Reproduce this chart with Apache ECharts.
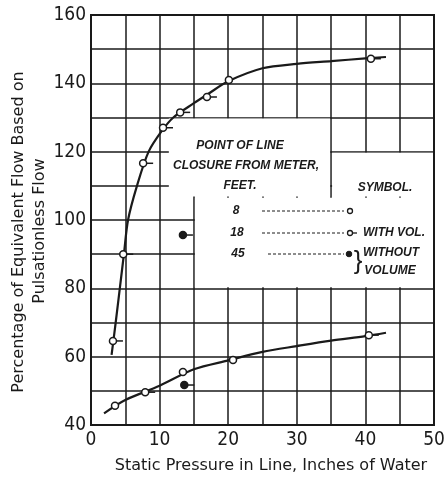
<!DOCTYPE html>
<html>
<head>
<meta charset="utf-8">
<script src="https://cdn.jsdelivr.net/npm/echarts@6/dist/echarts.min.js"></script>
<style>
  html, body { margin: 0; padding: 0; background: #fff; }
  #chart { width: 448px; height: 477px; }
</style>
</head>
<body>
<div id="chart"></div>
<script>
// traced curves (static pressure, % flow)
const upperCurve = [[3, 60.5], [3.6, 70], [4.2, 80], [4.8, 90], [5.4, 100], [6.7, 110], [8.4, 120],
  [10.3, 126], [12, 130], [15, 134.2], [17, 136.8], [20, 140.6], [25, 144.4], [30, 145.7],
  [35, 146.5], [40, 147.3], [43, 147.7]]
const lowerCurve = [[1.9, 43.4], [5, 47.3], [10, 51.5], [15, 56.3], [20, 58.9], [25, 61.4],
  [30, 63.1], [35, 64.7], [40, 66], [43, 67]]
// observed points by line-closure distance
const pts8ft = [[3.5, 45.6], [13.4, 55.5], [20.7, 59], [20.1, 141]]
const pts18ft = [[3.2, 64.6], [4.7, 90], [7.6, 116.6], [10.5, 127], [13, 131.5], [16.9, 136],
  [40.8, 147.2], [7.9, 49.6], [40.5, 66.3]]
const pts45ft = [[13.4, 95.6], [13.6, 51.7]]
const xTicks = [0, 10, 20, 30, 40, 50]
const yTicks = [40, 60, 80, 100, 120, 140, 160]

const ink = '#1a1a1a'
const tickFont = "'Liberation Sans Narrow', 'DejaVu Sans Condensed', sans-serif"
const noteFont = "'Liberation Sans', sans-serif"

let myChart = echarts.init(document.getElementById('chart'))

function marker(filled, tail) {
  return function (params, api) {
    let p = api.coord([api.value(0), api.value(1)])
    let kids = []
    if (tail) {
      kids.push({ type: 'line', shape: { x1: p[0] + 3, y1: p[1], x2: p[0] + 10, y2: p[1] },
        style: { stroke: ink, lineWidth: 1.5 } })
    }
    kids.push({ type: 'circle', shape: { cx: p[0], cy: p[1], r: 3.5 },
      style: { fill: filled ? ink : '#fff', stroke: ink, lineWidth: 1.5 } })
    return { type: 'group', children: kids }
  }
}

myChart.setOption({
  backgroundColor: '#fff',
  animation: false,
  grid: { left: 91, top: 15, right: 14, bottom: 52, show: true, borderColor: ink, borderWidth: 2, backgroundColor: 'transparent' },
  xAxis: {
    type: 'value', min: 0, max: 50, interval: 5,
    axisLine: { show: false }, axisTick: { show: false },
    splitLine: { show: true, lineStyle: { color: ink, width: 1.5 } },
    axisLabel: {
      color: ink, fontFamily: tickFont, fontSize: 19, margin: 6,
      formatter: v => xTicks.includes(v) ? String(v) : ''
    }
  },
  yAxis: {
    type: 'value', min: 40, max: 160, interval: 10,
    axisLine: { show: false }, axisTick: { show: false },
    splitLine: { show: true, lineStyle: { color: ink, width: 1.5 } },
    axisLabel: {
      color: ink, fontFamily: tickFont, fontSize: 19, margin: 5,
      formatter: v => yTicks.includes(v) ? String(v) : ''
    }
  },
  series: [
    { type: 'line', data: upperCurve, smooth: 0.3, showSymbol: false, z: 3,
      lineStyle: { color: ink, width: 2.2 } },
    { type: 'line', data: lowerCurve, smooth: 0.3, showSymbol: false, z: 3,
      lineStyle: { color: ink, width: 2.2 } },
    { type: 'custom', data: pts8ft, renderItem: marker(false, false), z: 4 },
    { type: 'custom', data: pts18ft, renderItem: marker(false, true), z: 4 },
    { type: 'custom', data: pts45ft, renderItem: marker(true, true), z: 4 }
  ]
})

// white legend box cut out of the grid
function px(x, y) { return myChart.convertToPixel({ gridIndex: 0 }, [x, y]) }
function box(x0, y0, x1, y1) {
  let a = px(x0, y1), b = px(x1, y0)
  return { type: 'rect', z: 1, shape: { x: a[0] + 1, y: a[1] + 1, width: b[0] - a[0] - 2, height: b[1] - a[1] - 2 },
    style: { fill: '#fff' }, silent: true }
}
function note(text, x, y, opt) {
  return Object.assign({ type: 'text', z: 5, x: x, y: y,
    style: { text: text, fill: ink, font: 'italic bold 12px ' + noteFont, align: 'center', verticalAlign: 'middle' } }, opt || {})
}
function dash(x1, x2, y) {
  return { type: 'line', z: 5, shape: { x1: x1, y1: y, x2: x2, y2: y },
    style: { stroke: ink, lineWidth: 1, lineDash: [3, 2] } }
}

myChart.setOption({
  graphic: [
    box(11.2, 106.6, 35, 130),
    box(35, 106.6, 50, 120),
    box(15, 80, 50, 106.8),
    note('POINT OF LINE', 240, 146),
    note('CLOSURE FROM METER,', 246, 166),
    note('FEET.', 240, 186),
    note('SYMBOL.', 385, 188),
    note('8', 236, 211),
    note('18', 237, 233),
    note('45', 238, 254),
    dash(262, 344, 211),
    dash(262, 344, 233),
    dash(268, 344, 254),
    { type: 'circle', z: 5, shape: { cx: 350, cy: 211, r: 2.5 }, style: { fill: '#fff', stroke: ink, lineWidth: 1.3 } },
    { type: 'circle', z: 5, shape: { cx: 350, cy: 233, r: 2.5 }, style: { fill: '#fff', stroke: ink, lineWidth: 1.3 } },
    { type: 'line', z: 5, shape: { x1: 352.5, y1: 233, x2: 357, y2: 233 }, style: { stroke: ink, lineWidth: 1.3 } },
    { type: 'circle', z: 5, shape: { cx: 349, cy: 254, r: 2.8 }, style: { fill: ink, stroke: ink, lineWidth: 1 } },
    note('WITH VOL.', 394, 233),
    note('}', 358, 262, { style: { text: '}', fill: ink, font: '26px ' + noteFont, align: 'center', verticalAlign: 'middle' } }),
    note('WITHOUT', 391, 253),
    note('VOLUME', 390, 271),
    { type: 'text', z: 5, x: 19, y: 232, rotation: Math.PI / 2,
      style: { text: 'Percentage of Equivalent Flow Based on', fill: ink, font: '16px DejaVu Sans', align: 'center', verticalAlign: 'middle' } },
    { type: 'text', z: 5, x: 40, y: 231, rotation: Math.PI / 2,
      style: { text: 'Pulsationless Flow', fill: ink, font: '16px DejaVu Sans', align: 'center', verticalAlign: 'middle' } },
    { type: 'text', z: 5, x: 271, y: 466,
      style: { text: 'Static Pressure in Line, Inches of Water', fill: ink, font: '16px DejaVu Sans', align: 'center', verticalAlign: 'middle' } }
  ]
})
</script>
</body>
</html>
